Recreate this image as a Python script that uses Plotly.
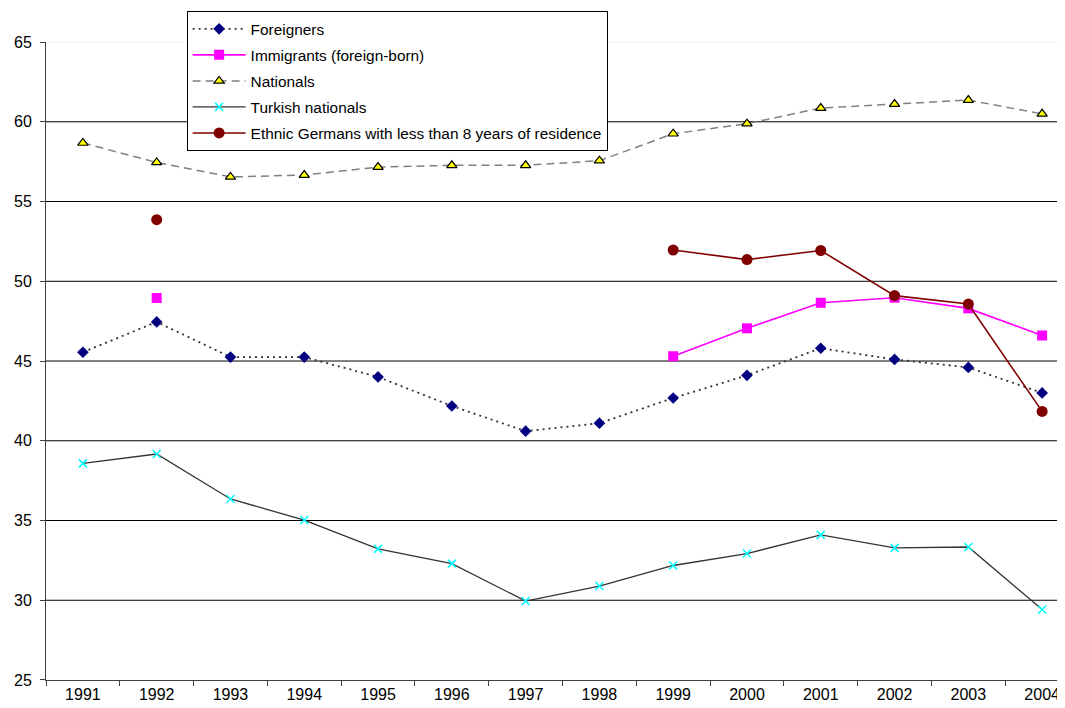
import plotly.graph_objects as go

years = [str(y) for y in range(1991, 2005)]
foreigners = [45.55, 47.45, 45.25, 45.25, 44.0, 42.18, 40.6, 41.1, 42.68, 44.1, 45.8, 45.1, 44.6, 43.0]
immigrants = [None, 48.95, None, None, None, None, None, None, 45.3, 47.05, 48.65, 48.97, 48.3, 46.6]
nationals = [58.67, 57.45, 56.54, 56.66, 57.16, 57.27, 57.27, 57.56, 59.25, 59.88, 60.86, 61.11, 61.36, 60.5]
turkish = [38.58, 39.17, 36.35, 35.03, 33.22, 32.3, 29.95, 30.89, 32.18, 32.93, 34.1, 33.28, 33.34, 29.42]
ethnic = [None, 53.86, None, None, None, None, None, None, 51.96, 51.36, 51.93, 49.1, 48.57, 41.84]
grid_levels = [30, 35, 40, 45, 50, 55, 60]

fig = go.Figure()
fig.add_trace(go.Scatter(x=years, y=foreigners, name="Foreigners", mode="lines+markers",
                         line=dict(color="#333333", width=1.8, dash="2px,4px"),
                         marker=dict(symbol="diamond", color="#000080", size=9),
                         legendgroup="a"))
fig.add_trace(go.Scatter(x=years, y=immigrants, name="Immigrants (foreign-born)", mode="lines+markers",
                         line=dict(color="#FF00FF", width=1.6),
                         marker=dict(symbol="square", color="#FF00FF", size=10),
                         connectgaps=False, legendgroup="b"))
fig.add_trace(go.Scatter(x=years, y=nationals, name="Nationals", mode="lines+markers",
                         line=dict(color="#808080", width=1.5, dash="8px,5px"),
                         marker=dict(symbol="triangle-up", color="#FFFF00", size=9,
                                     line=dict(color="black", width=1.2)),
                         legendgroup="c"))
fig.add_trace(go.Scatter(x=years, y=turkish, name="Turkish nationals", mode="lines+markers",
                         line=dict(color="#333333", width=1.3),
                         marker=dict(symbol="x-thin", size=8, line=dict(color="#00FFFF", width=1.6)),
                         legendgroup="d"))
fig.add_trace(go.Scatter(x=years, y=ethnic, name="Ethnic Germans with less than 8 years of residence",
                         mode="lines+markers",
                         line=dict(color="#800000", width=1.6),
                         marker=dict(symbol="circle", color="#800000", size=11),
                         connectgaps=False, legendgroup="e"))

shapes = [dict(type="line", xref="paper", yref="y", x0=0, x1=1, y0=g, y1=g,
               line=dict(color="black", width=1), layer="below") for g in grid_levels]
shapes.append(dict(type="line", xref="paper", yref="y", x0=0, x1=1, y0=65, y1=65,
                   line=dict(color="#e6e6e6", width=1), layer="below"))

# page has an 8px body margin: figure is 1057x700, placed at (8,8)
fig.update_layout(
    width=1057, height=700,
    margin=dict(l=38, r=0, t=2, b=28, autoexpand=False),
    paper_bgcolor="white", plot_bgcolor="white",
    font=dict(family="Liberation Sans, Arial, sans-serif", size=16, color="black"),
    shapes=shapes,
    showlegend=True,
    legend=dict(x=0.138, y=0.998, xanchor="left", yanchor="top",
                bgcolor="white", bordercolor="black", borderwidth=1,
                font=dict(size=15.4), tracegroupgap=3, itemwidth=53,
                traceorder="grouped"),
)
fig.update_xaxes(type="category", range=[-0.5, 13.31], tickson="boundaries",
                 ticks="outside", ticklen=5, tickcolor="#404040",
                 showline=True, linecolor="#404040", linewidth=1,
                 showgrid=False, zeroline=False, tickfont=dict(size=16), automargin=False)
fig.update_yaxes(range=[25, 65], tickvals=[25, 30, 35, 40, 45, 50, 55, 60, 65],
                 domain=[0, 0.9522],
                 ticks="outside", ticklen=5, tickcolor="#404040",
                 showline=True, linecolor="#404040", linewidth=1, ticklabelstandoff=5,
                 showgrid=False, zeroline=False, tickfont=dict(size=16), automargin=False)

fig.write_html("out.html")
